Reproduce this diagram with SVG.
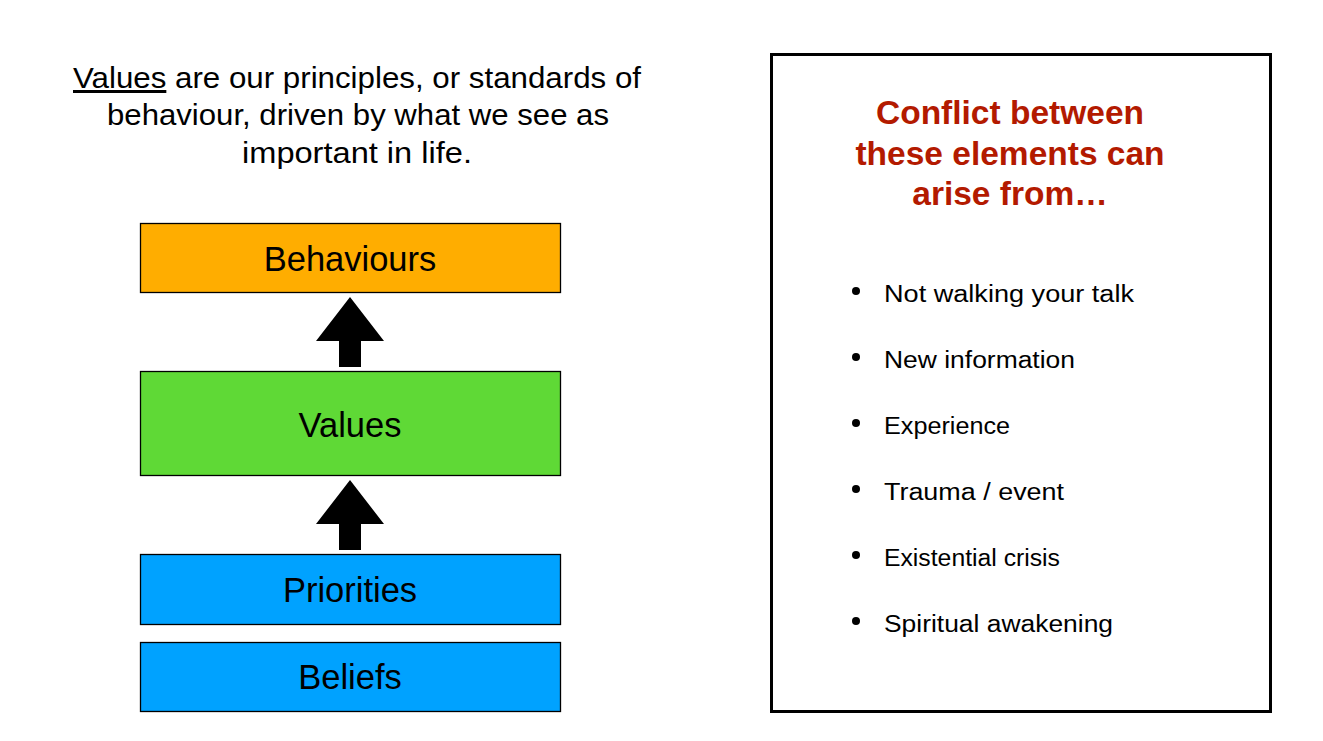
<svg xmlns="http://www.w3.org/2000/svg" width="1323" height="741" viewBox="0 0 1323 741">
<style>
.box{stroke:#000;stroke-width:1.3}
.lbl{font-family:"Liberation Sans",Arial,sans-serif;font-size:34.5px;fill:#000;text-anchor:middle}
.intro{font-family:"Liberation Sans",Arial,sans-serif;font-size:30px;fill:#000}
.title{font-family:"Liberation Sans",Arial,sans-serif;font-size:33.5px;font-weight:bold;fill:#B31A00;text-anchor:middle}
.item{font-family:"Liberation Sans",Arial,sans-serif;font-size:23px;fill:#000}
.arrow{fill:#000}
</style>
<rect width="1323" height="741" fill="#fff"/>
<g id="intro">
<text class="intro" x="73" y="88" textLength="568" lengthAdjust="spacingAndGlyphs"><tspan text-decoration="underline">Values</tspan> are our principles, or standards of</text>
<text class="intro" x="107" y="125" textLength="502" lengthAdjust="spacingAndGlyphs">behaviour, driven by what we see as</text>
<text class="intro" x="242" y="163" textLength="230" lengthAdjust="spacingAndGlyphs">important in life.</text>
</g>
<g id="behaviours">
<rect class="box" x="140.5" y="223.5" width="420" height="69" fill="#FFAD00"/>
<text class="lbl" x="350" y="271">Behaviours</text>
</g>
<g id="values">
<rect class="box" x="140.5" y="371.5" width="420" height="104" fill="#5FD936"/>
<text class="lbl" x="350" y="437">Values</text>
</g>
<g id="priorities">
<rect class="box" x="140.5" y="554.5" width="420" height="70" fill="#00A2FF"/>
<text class="lbl" x="350" y="602">Priorities</text>
</g>
<g id="beliefs">
<rect class="box" x="140.5" y="642.5" width="420" height="69" fill="#00A2FF"/>
<text class="lbl" x="350" y="689">Beliefs</text>
</g>
<g id="connectors">
<polygon class="arrow" points="350,297 384,341 361,341 361,367 339,367 339,341 316,341"/>
<polygon class="arrow" points="350,480 384,524 361,524 361,550 339,550 339,524 316,524"/>
</g>
<g id="conflict-panel">
<rect x="771.5" y="54.5" width="499" height="657" fill="#fff" stroke="#000" stroke-width="3"/>
<text class="title" x="1010" y="124">Conflict between</text>
<text class="title" x="1010" y="165">these elements can</text>
<text class="title" x="1010" y="205">arise from…</text>
<g fill="#000">
<circle cx="856" cy="291" r="4"/>
<circle cx="856" cy="357" r="4"/>
<circle cx="856" cy="423" r="4"/>
<circle cx="856" cy="489" r="4"/>
<circle cx="856" cy="555" r="4"/>
<circle cx="856" cy="621" r="4"/>
</g>
<text class="item" x="884" y="302" textLength="250" lengthAdjust="spacingAndGlyphs">Not walking your talk</text>
<text class="item" x="884" y="368" textLength="191" lengthAdjust="spacingAndGlyphs">New information</text>
<text class="item" x="884" y="434" textLength="126" lengthAdjust="spacingAndGlyphs">Experience</text>
<text class="item" x="884" y="500" textLength="180" lengthAdjust="spacingAndGlyphs">Trauma / event</text>
<text class="item" x="884" y="566" textLength="176" lengthAdjust="spacingAndGlyphs">Existential crisis</text>
<text class="item" x="884" y="632" textLength="229" lengthAdjust="spacingAndGlyphs">Spiritual awakening</text>
</g>
</svg>
